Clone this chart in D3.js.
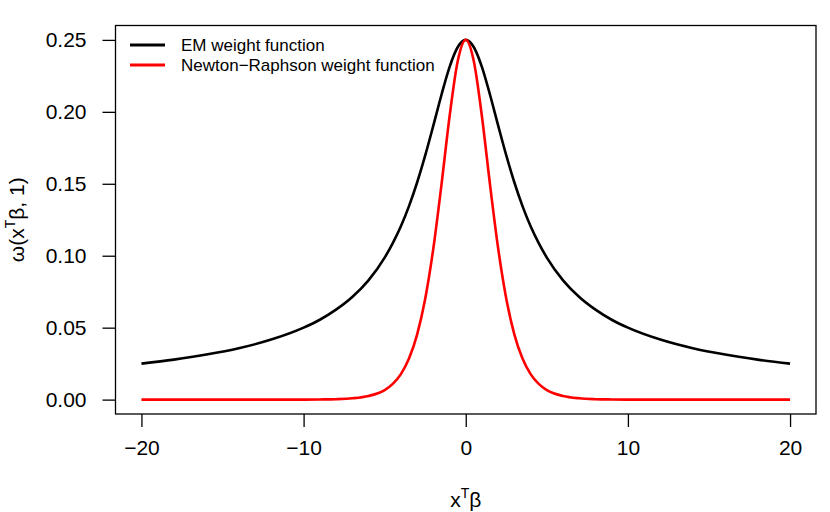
<!DOCTYPE html>
<html>
<head>
<meta charset="utf-8">
<script src="https://cdn.jsdelivr.net/npm/d3@7"></script>
<style>
  body { margin: 0; background: #fff; }
  text { font-family: "Liberation Sans", Arial, sans-serif; fill: #000; }
</style>
</head>
<body>
<div id="chart"></div>
<script>
// values
var xVals = [-20, -18, -16, -14, -12, -10, -9, -8, -7, -6, -5, -4.5, -4, -3.5, -3, -2.5, -2, -1.5, -1, -0.5,
  0, 0.5, 1, 1.5, 2, 2.5, 3, 3.5, 4, 4.5, 5, 6, 7, 8, 9, 10, 12, 14, 16, 18, 20];
var emVals = [0.0250, 0.0278, 0.0313, 0.0357, 0.0417, 0.0500, 0.0555, 0.0625, 0.0713, 0.0829, 0.0987, 0.1088, 0.1205, 0.1345, 0.1509, 0.1697, 0.1904, 0.2117, 0.2311, 0.2449,
  0.2500, 0.2449, 0.2311, 0.2117, 0.1904, 0.1697, 0.1509, 0.1345, 0.1205, 0.1088, 0.0987, 0.0829, 0.0713, 0.0625, 0.0555, 0.0500, 0.0417, 0.0357, 0.0313, 0.0278, 0.0250];
var nrVals = [0, 0, 0, 0, 0, 0.0000, 0.0001, 0.0003, 0.0009, 0.0025, 0.0066, 0.0109, 0.0177, 0.0285, 0.0452, 0.0701, 0.1050, 0.1491, 0.1966, 0.2350,
  0.2500, 0.2350, 0.1966, 0.1491, 0.1050, 0.0701, 0.0452, 0.0285, 0.0177, 0.0109, 0.0066, 0.0025, 0.0009, 0.0003, 0.0001, 0.0000, 0, 0, 0, 0, 0];
var xTicks = [-20, -10, 0, 10, 20];
var yTicks = [0.00, 0.05, 0.10, 0.15, 0.20, 0.25];
var seriesNames = ["EM weight function", "Newton\u2212Raphson weight function"];
var seriesColors = ["#000000", "#ff0000"];

var width = 830, height = 512;
var box = { left: 115.5, right: 816, top: 25.5, bottom: 414 };

var svg = d3.select("#chart").append("svg")
  .attr("width", width)
  .attr("height", height);

var x_scale = d3.scaleLinear().domain([-21.6, 21.6]).range([box.left, box.right]);
var y_scale = d3.scaleLinear().domain([-0.01, 0.26]).range([box.bottom, box.top]);

// Lines
var line = d3.line()
  .x(function(d) { return x_scale(d[0]); })
  .y(function(d) { return y_scale(d[1]); })
  .curve(d3.curveMonotoneX);

[emVals, nrVals].forEach(function(vals, i) {
  svg.append("path")
    .datum(xVals.map(function(x, j) { return [x, vals[j]]; }))
    .attr("d", line)
    .attr("fill", "none")
    .attr("stroke", seriesColors[i])
    .attr("stroke-width", 2.6);
});

// Box
svg.append("rect")
  .attr("x", box.left).attr("y", box.top)
  .attr("width", box.right - box.left).attr("height", box.bottom - box.top)
  .attr("fill", "none").attr("stroke", "#000").attr("stroke-width", 1.3);

// Axes
var x_axis = d3.axisBottom(x_scale).tickValues(xTicks).tickSize(13).tickPadding(13)
  .tickFormat(function(d) { return d < 0 ? "\u2212" + Math.abs(d) : d; });
var gx = svg.append("g")
  .attr("transform", "translate(0," + box.bottom + ")")
  .call(x_axis);
gx.select(".domain").remove();

var y_axis = d3.axisLeft(y_scale).tickValues(yTicks).tickSize(13).tickPadding(16)
  .tickFormat(d3.format(".2f"));
var gy = svg.append("g")
  .attr("transform", "translate(" + box.left + ",0)")
  .call(y_axis);
gy.select(".domain").remove();

svg.selectAll(".tick line").attr("stroke", "#000").attr("stroke-width", 1.3);
svg.selectAll("g").attr("font-size", null).attr("font-family", null);
svg.selectAll(".tick text").style("font-size", "21px").attr("fill", "#000");

// Axis titles
var xt = svg.append("text")
  .attr("x", x_scale(0)).attr("y", 507)
  .attr("text-anchor", "middle")
  .style("font-size", "21px");
xt.append("tspan").text("x");
xt.append("tspan").attr("dy", -9).style("font-size", "14px").text("T");
xt.append("tspan").attr("dy", 9).text("\u03b2");

var yt = svg.append("text")
  .attr("transform", "translate(24," + y_scale(0.125) + ") rotate(-90)")
  .attr("text-anchor", "middle")
  .style("font-size", "21px");
yt.append("tspan").text("\u03c9(x");
yt.append("tspan").attr("dy", -9).style("font-size", "14px").text("T");
yt.append("tspan").attr("dy", 9).text("\u03b2, 1)");

// Legend
var legend = svg.append("g");
seriesNames.forEach(function(name, i) {
  var ly = 45 + i * 20;
  legend.append("line")
    .attr("x1", 130).attr("x2", 165).attr("y1", ly).attr("y2", ly)
    .attr("stroke", seriesColors[i]).attr("stroke-width", 3);
  legend.append("text")
    .attr("x", 181).attr("y", ly + 5.5)
    .style("font-size", "17px")
    .text(name);
});
</script>
</body>
</html>
